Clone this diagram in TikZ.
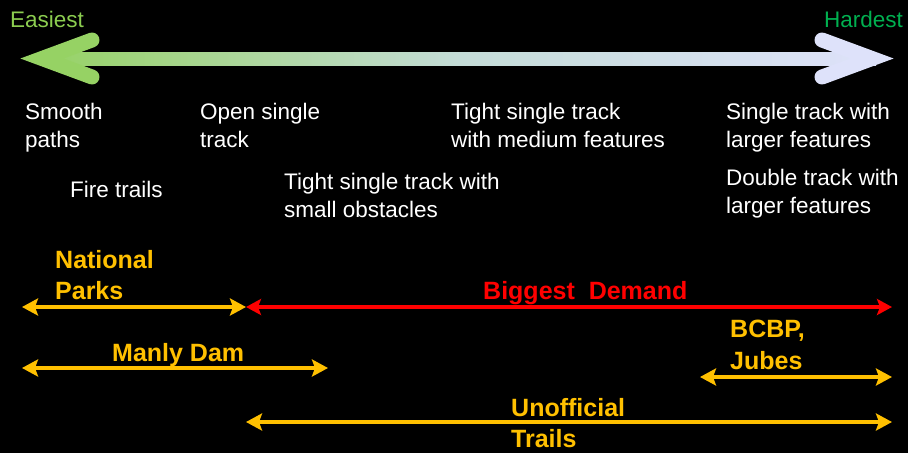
\documentclass[tikz,border=0pt]{standalone}
\usepackage{fontspec}
\setmainfont{Liberation Sans}
\usetikzlibrary{arrows.meta}
\definecolor{grn}{RGB}{150,210,100}
\definecolor{lav}{RGB}{222,226,250}
\definecolor{easyc}{RGB}{140,205,80}
\definecolor{hardc}{RGB}{0,176,80}
\definecolor{gold}{RGB}{255,192,0}
\definecolor{redc}{RGB}{255,0,0}
\tikzset{
  wtxt/.style={anchor=north west, inner sep=0pt, text=white, align=left, font=\fontsize{22.5}{27.5}\selectfont},
  ytxt/.style={anchor=north west, inner sep=0pt, text=gold, align=left, font=\fontsize{25}{31.5}\selectfont\bfseries},
  yarr/.style={gold, line width=4.5pt, {Stealth[length=16pt,width=17pt,inset=3pt]}-{Stealth[length=16pt,width=17pt,inset=3pt]}},
  rarr/.style={redc, line width=4.5pt, {Stealth[length=15pt,width=16pt,inset=3pt]}-{Stealth[length=15pt,width=16pt,inset=3pt]}},
  headl/.style={line width=15pt, line cap=round, line join=miter},
}
\begin{document}
\begin{tikzpicture}[x=1pt,y=-1pt]
\fill[black] (0,0) rectangle (908,453);
\useasboundingbox (0,0) rectangle (908,453);
% big gradient arrow
\coordinate (bl) at (40,52);
\coordinate (br) at (876,65);
\shade[left color=grn, right color=lav, middle color={rgb,255:red,196;green,220;blue,215}] (bl) rectangle (br);
\draw[headl, grn] (92,40) -- (42,58.5) -- (92,77);
\draw[headl, lav] (822,40) -- (872,58.5) -- (822,77);
\node[anchor=north west, inner sep=0pt, text=easyc, font=\fontsize{22.5}{27}\selectfont] (easy) at (10,11) {Easiest};
\node[anchor=north east, inner sep=0pt, text=hardc, font=\fontsize{22.5}{27}\selectfont] (hard) at (903,11) {Hardest};
% white texts
\node[wtxt] (t1) at (25,103) {Smooth\\paths};
\node[wtxt] (t2) at (70,181) {Fire trails};
\node[wtxt] (t3) at (200,103) {Open single\\track};
\node[wtxt] (t4) at (284,173) {Tight single track with\\small obstacles};
\node[wtxt] (t5) at (451,103) {Tight single track\\with medium features};
\node[wtxt] (t6) at (726,103) {Single track with\\larger features};
\node[wtxt] (t7) at (726,169) {Double track with\\larger features};
% bold labels
\node[ytxt] (np) at (55,250) {National\\Parks};
\node[anchor=north west, inner sep=0pt, text=redc, font=\fontsize{25}{31.5}\selectfont\bfseries] (bd) at (483,281) {Biggest\ \ Demand};
\node[ytxt] (md) at (112,343) {Manly Dam};
\node[ytxt] (bc) at (730,320) {BCBP,\\Jubes};
\node[ytxt] (uo) at (511,398) {Unofficial\\Trails};
% range arrows
\coordinate (npl) at (22,307);
\coordinate (npr) at (246,307);
\coordinate (bdr) at (892,307);
\coordinate (mdl) at (22,368);
\coordinate (mdr) at (328,368);
\coordinate (bcl) at (700,377);
\coordinate (bcr) at (892,377);
\coordinate (uol) at (246,422);
\coordinate (uor) at (892,422);
\draw[rarr] (npr) -- (bdr);
\draw[yarr] (npl) -- (npr);
\draw[yarr] (mdl) -- (mdr);
\draw[yarr] (bcl) -- (bcr);
\draw[yarr] (uol) -- (uor);
\end{tikzpicture}
\end{document}
